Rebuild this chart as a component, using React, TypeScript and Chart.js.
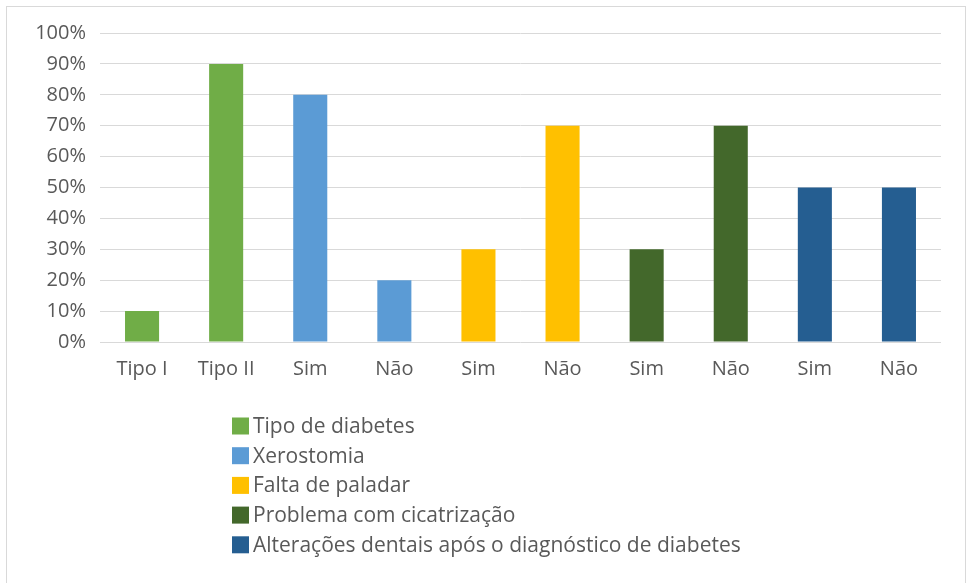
import React, { useEffect, useRef } from "react";
import { Chart, registerables } from "chart.js";

Chart.register(...registerables);

const categories = ["Tipo I", "Tipo II", "Sim", "Não", "Sim", "Não", "Sim", "Não", "Sim", "Não"];
const tipoDiabetes = [10, 90, null, null, null, null, null, null, null, null];
const xerostomia = [null, null, 80, 20, null, null, null, null, null, null];
const faltaPaladar = [null, null, null, null, 30, 70, null, null, null, null];
const cicatrizacao = [null, null, null, null, null, null, 30, 70, null, null];
const alteracoes = [null, null, null, null, null, null, null, null, 50, 50];
const seriesLabels = [
  "Tipo de diabetes",
  "Xerostomia",
  "Falta de paladar",
  "Problema com cicatrização",
  "Alterações dentais após o diagnóstico de diabetes",
];
const seriesColors = ["#70AD47", "#5B9BD5", "#FFC000", "#43682B", "#255E91"];
const yTicks = [0, 10, 20, 30, 40, 50, 60, 70, 80, 90, 100];

const FONT = "'Open Sans', sans-serif";
const TEXT = "#595959";

const legendPlugin = {
  id: "columnLegend",
  afterDraw(chart: any) {
    const ctx = chart.ctx;
    ctx.save();
    ctx.font = `21px ${FONT}`;
    ctx.textBaseline = "middle";
    ctx.textAlign = "left";
    chart.data.datasets.forEach((ds: any, i: number) => {
      const cy = 426 + i * 29.7;
      ctx.fillStyle = ds.backgroundColor;
      ctx.fillRect(232, cy - 8.5, 17, 17);
      ctx.fillStyle = TEXT;
      ctx.fillText(ds.label, 253, cy + 1);
    });
    ctx.restore();
  },
};

export default function App() {
  const ref = useRef<HTMLCanvasElement | null>(null);
  useEffect(() => {
    if (!ref.current) return;
    const seriesData = [tipoDiabetes, xerostomia, faltaPaladar, cicatrizacao, alteracoes];
    const chart = new Chart(ref.current, {
      type: "bar",
      data: {
        labels: categories,
        datasets: seriesData.map((d, i) => ({
          label: seriesLabels[i],
          data: d as any,
          backgroundColor: seriesColors[i],
          borderWidth: 0,
          categoryPercentage: 1,
          barPercentage: 0.405,
        })),
      },
      options: {
        animation: false,
        responsive: false,
        maintainAspectRatio: false,
        layout: { padding: { top: 33, right: 27, bottom: 0, left: 0 } },
        plugins: { legend: { display: false }, tooltip: { enabled: false } },
        scales: {
          x: {
            stacked: true,
            grid: { display: false, drawTicks: false },
            border: { display: false },
            ticks: { color: TEXT, font: { family: FONT, size: 20 }, padding: 15 },
            afterFit: (s: any) => {
              s.height = 241;
            },
          },
          y: {
            stacked: true,
            min: 0,
            max: 100,
            afterBuildTicks: (s: any) => {
              s.ticks = yTicks.map((v) => ({ value: v }));
            },
            grid: { color: "#D9D9D9", lineWidth: 1, drawTicks: false },
            border: { display: false },
            ticks: {
              color: TEXT,
              font: { family: FONT, size: 20 },
              padding: 14,
              callback: (v: any) => `${v}%`,
            },
            afterFit: (s: any) => {
              s.width = 100;
            },
          },
        },
      },
      plugins: [legendPlugin],
    });
    return () => chart.destroy();
  }, []);

  return (
    <div style={{ position: "absolute", left: 0, top: 0, width: 968, height: 583, overflow: "hidden", background: "#fff" }}>
      <div
        style={{
          position: "absolute",
          left: 6,
          top: 6,
          width: 960,
          height: 600,
          border: "1px solid #D9D9D9",
          boxSizing: "border-box",
        }}
      />
      <canvas ref={ref} width={968} height={583} style={{ position: "absolute", left: 0, top: 0 }} />
    </div>
  );
}
